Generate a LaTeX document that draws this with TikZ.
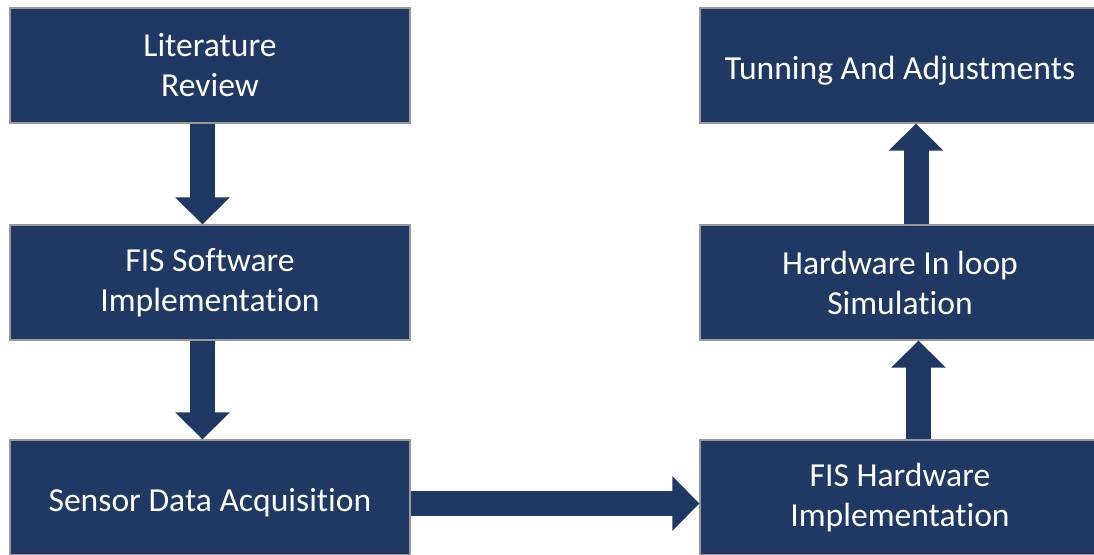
\documentclass[tikz,border=0pt]{standalone}
\usepackage{fontspec}
\setmainfont{Carlito}[Ligatures=NoCommon]
\usetikzlibrary{arrows.meta}
\definecolor{navy}{RGB}{31,56,100}

\begin{document}
\begin{tikzpicture}[x=0.5pt,y=-0.5pt,
  box/.style={fill=navy,draw=gray!80,line width=0.6pt,text=white,align=center,
    minimum width=200pt,minimum height=57.5pt,inner sep=0pt,
    font=\fontsize{16.8}{20}\selectfont,
    execute at begin node={\rule{0pt}{17pt}}},
  blockarrow/.style={draw=navy,line width=12.5pt,
    -{Triangle[width=26.5pt,length=13.5pt]}}]
  \useasboundingbox (0,0) rectangle (1094,555);
  \node[box] (lit) at (210,65.5) {Literature\\Review};
  \node[box] (sw) at (210,282.5) {FIS Software\\Implementation};
  \node[box] (sda) at (210,497.5) {Sensor Data Acquisition};
  \node[box] (hw) at (900,497.5) {FIS Hardware\\Implementation};
  \node[box] (hil) at (900,282.5) {Hardware In loop\\Simulation};
  \node[box] (tune) at (900,65.5) {Tunning And Adjustments};
  \coordinate (lc) at (202.5,0);
  \coordinate (h) at (0,503.5);
  \coordinate (r1) at (918.5,0);
  \coordinate (r2) at (916,0);
  \draw[blockarrow] (lit.south -| lc) to (sw.north -| lc);
  \draw[blockarrow] (sw.south -| lc) to (sda.north -| lc);
  \draw[blockarrow] (sda.east |- h) to (hw.west |- h);
  \draw[blockarrow] (hw.north -| r1) to (hil.south -| r1);
  \draw[blockarrow] (hil.north -| r2) to (tune.south -| r2);
\end{tikzpicture}
\end{document}
